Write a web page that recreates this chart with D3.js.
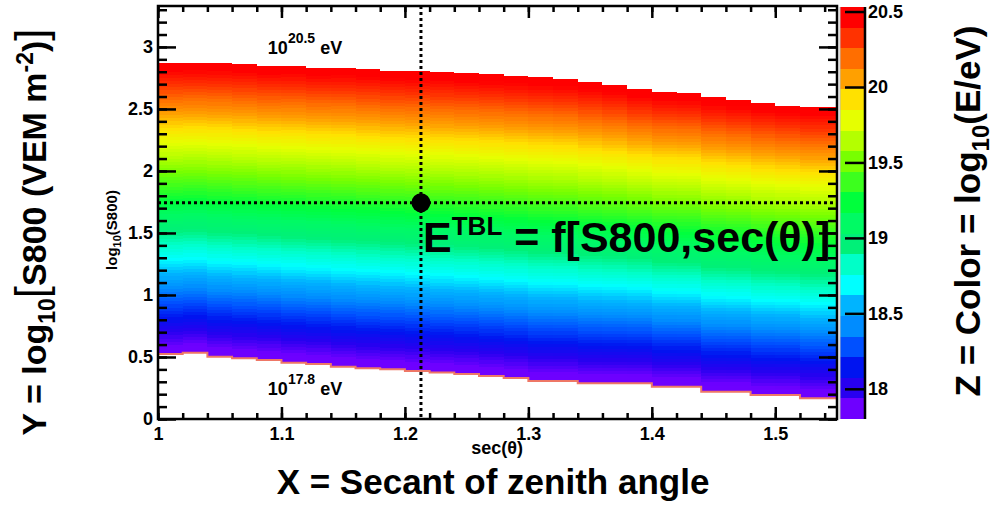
<!DOCTYPE html>
<html>
<head>
<meta charset="utf-8">
<script src="https://cdn.jsdelivr.net/npm/d3@7"></script>
<style>
 body { margin: 0; background: #fff; }
 text { font-family: "Liberation Sans", Arial, Helvetica, sans-serif; font-weight: bold; fill: #000; }
</style>
</head>
<body>
<div id="chart"></div>
<script>
// sec(theta) bin starts (bin width 0.02)
var secBins = [1.00, 1.02, 1.04, 1.06, 1.08, 1.10, 1.12, 1.14, 1.16, 1.18,
               1.20, 1.22, 1.24, 1.26, 1.28, 1.30, 1.32, 1.34, 1.36, 1.38,
               1.40, 1.42, 1.44, 1.46, 1.48, 1.50, 1.52, 1.54];
// log10(S800) where the table reaches 10^17.8 eV (lower edge)
var logS800Low = [0.524, 0.535, 0.502, 0.490, 0.476, 0.454, 0.444, 0.421, 0.409, 0.401,
                  0.387, 0.375, 0.363, 0.347, 0.331, 0.306, 0.306, 0.288, 0.288, 0.288,
                  0.260, 0.260, 0.220, 0.220, 0.194, 0.194, 0.167, 0.167];
// log10(S800) where the table reaches 10^20.5 eV (upper edge)
var logS800High = [2.869, 2.869, 2.869, 2.860, 2.847, 2.847, 2.833, 2.833, 2.820, 2.806,
                   2.802, 2.794, 2.786, 2.778, 2.766, 2.754, 2.742, 2.718, 2.694, 2.659,
                   2.635, 2.627, 2.594, 2.573, 2.546, 2.527, 2.514, 2.514];
var secBinWidth = 0.02;
var logSBinHeight = 0.025;
var energyRange = [17.8, 20.53];
var colorTicks = [18, 18.5, 19, 19.5, 20, 20.5];
var xMajorTicks = [1, 1.1, 1.2, 1.3, 1.4, 1.5];
var yMajorTicks = [0, 0.5, 1, 1.5, 2, 2.5, 3];
var refPoint = { sec: 1.213, logS: 1.744 };

// ROOT-like rainbow palette, bottom to top (20 contour levels)
var palette = ["#6e00ff", "#2800f0", "#0014f0", "#0050ff", "#008cff", "#00b4ff", "#00ffff",
               "#00ffc8", "#00f078", "#00fa64", "#00ff3c", "#3cff1e", "#78ff00", "#b4ff00",
               "#e6ff00", "#ffe100", "#ffa000", "#ff6e00", "#ff3200", "#ff0000"];

var props = { width: 1003, height: 508, left: 158, right: 837, top: 6, bottom: 419,
              barLeft: 840, barRight: 864, barTop: 7 };

var svg = d3.select("#chart").append("svg")
  .attr("width", props.width).attr("height", props.height);

var x = d3.scaleLinear().domain([1, 1.55]).range([props.left, props.right]);
var y = d3.scaleLinear().domain([0, 3.33]).range([props.bottom, props.top]);
var z = d3.scaleLinear().domain(energyRange).range([props.bottom, props.barTop]);

var nLevels = palette.length;
var step = (energyRange[1] - energyRange[0]) / nLevels;
var levelCenters = d3.range(nLevels).map(function(k){ return energyRange[0] + (k + 0.5) * step; });
var cellColor = d3.scaleLinear().domain(levelCenters).range(palette).clamp(true);

svg.append("clipPath").attr("id", "frameClip").append("rect")
  .attr("x", props.left).attr("y", props.top)
  .attr("width", props.right - props.left).attr("height", props.bottom - props.top);

// build cells: log10(E) rises linearly from the lower to the upper edge of each column
var cells = [];
secBins.forEach(function(s, i){
  var lo = logS800Low[i], hi = logS800High[i];
  for (var v = lo; v < hi - 1e-9; v += logSBinHeight) {
    var top = Math.min(v + logSBinHeight, hi);
    var mid = (v + top) / 2;
    var e = energyRange[0] + (mid - lo) / (hi - lo) * (energyRange[1] - energyRange[0]);
    cells.push({ sec: s, y0: v, y1: top, e: e });
  }
});

var heat = svg.append("g").attr("clip-path", "url(#frameClip)");
heat.selectAll("rect").data(cells).enter().append("rect")
  .attr("x", function(d){ return x(d.sec); })
  .attr("width", function(d){ return x(d.sec + secBinWidth) - x(d.sec); })
  .attr("y", function(d){ return y(d.y1); })
  .attr("height", function(d){ return y(d.y0) - y(d.y1); })
  .attr("fill", function(d){ return cellColor(d.e); })
  .attr("shape-rendering", "crispEdges");

// lower boundary line
var edge = secBins.map(function(s, i){ return [s, logS800Low[i]]; });
edge.push([secBins[secBins.length - 1] + secBinWidth, logS800Low[logS800Low.length - 1]]);
heat.append("path")
  .attr("d", d3.line().x(function(d){ return x(d[0]); }).y(function(d){ return y(d[1]); })
    .curve(d3.curveStepAfter)(edge))
  .attr("fill", "none").attr("stroke", "#ee7766").attr("stroke-width", 2);

// axes (ROOT style, ticks inside frame)
function styleAxis(g){
  g.select(".domain").remove();
  g.selectAll("line").attr("stroke", "#000").attr("stroke-width", 2.5);
  g.selectAll("text").attr("font-size", 18).attr("font-family", null).attr("fill", "#000");
}
var fmt = d3.format("~g");
var xMinor = d3.range(1, 1.5501, 0.02);
var yMinor = d3.range(0, 3.3301, 0.1);

svg.append("g").attr("transform", "translate(0," + props.bottom + ")")
  .call(d3.axisBottom(x).tickValues(xMinor).tickSize(-6).tickFormat("")).call(styleAxis);
svg.append("g").attr("transform", "translate(0," + props.bottom + ")")
  .call(d3.axisBottom(x).tickValues(xMajorTicks).tickSize(-12).tickPadding(8).tickFormat(fmt)).call(styleAxis);
svg.append("g").attr("transform", "translate(0," + props.top + ")")
  .call(d3.axisTop(x).tickValues(xMinor).tickSize(-6).tickFormat("")).call(styleAxis);
svg.append("g").attr("transform", "translate(0," + props.top + ")")
  .call(d3.axisTop(x).tickValues(xMajorTicks).tickSize(-12).tickFormat("")).call(styleAxis);

svg.append("g").attr("transform", "translate(" + props.left + ",0)")
  .call(d3.axisLeft(y).tickValues(yMinor).tickSize(-9).tickFormat("")).call(styleAxis);
svg.append("g").attr("transform", "translate(" + props.left + ",0)")
  .call(d3.axisLeft(y).tickValues(yMajorTicks).tickSize(-18).tickPadding(5).tickFormat(fmt)).call(styleAxis);
svg.append("g").attr("transform", "translate(" + props.right + ",0)")
  .call(d3.axisRight(y).tickValues(yMinor).tickSize(-9).tickFormat("")).call(styleAxis);
svg.append("g").attr("transform", "translate(" + props.right + ",0)")
  .call(d3.axisRight(y).tickValues(yMajorTicks).tickSize(-18).tickFormat("")).call(styleAxis);

svg.append("rect")
  .attr("x", props.left).attr("y", props.top)
  .attr("width", props.right - props.left).attr("height", props.bottom - props.top)
  .attr("fill", "none").attr("stroke", "#000").attr("stroke-width", 2.5);

// dotted guide lines and the reference point
svg.append("line")
  .attr("x1", x(refPoint.sec)).attr("x2", x(refPoint.sec))
  .attr("y1", props.top).attr("y2", props.bottom)
  .attr("stroke", "#000").attr("stroke-width", 3).attr("stroke-dasharray", "3,3");
svg.append("line")
  .attr("x1", props.left).attr("x2", props.right)
  .attr("y1", y(refPoint.logS)).attr("y2", y(refPoint.logS))
  .attr("stroke", "#000").attr("stroke-width", 3).attr("stroke-dasharray", "3,3");
svg.append("circle")
  .attr("cx", x(refPoint.sec)).attr("cy", y(refPoint.logS)).attr("r", 9.5).attr("fill", "#000");

// colour bar
var levels = d3.range(nLevels).map(function(k){ return energyRange[0] + k * step; });
svg.append("g").selectAll("rect").data(levels).enter().append("rect")
  .attr("x", props.barLeft).attr("width", props.barRight - props.barLeft)
  .attr("y", function(d){ return z(d + step); })
  .attr("height", function(d){ return z(d) - z(d + step); })
  .attr("fill", function(d, k){ return palette[k]; })
  .attr("shape-rendering", "crispEdges");
svg.append("line")
  .attr("x1", props.barLeft).attr("x2", props.barLeft)
  .attr("y1", props.barTop).attr("y2", props.bottom)
  .attr("stroke", "#bbb").attr("stroke-width", 1);
svg.append("g").attr("transform", "translate(" + (props.barRight + 1) + ",0)")
  .call(d3.axisRight(z).tickValues(colorTicks).tickSize(-20).tickPadding(3).tickFormat(fmt))
  .call(styleAxis);
svg.append("line")
  .attr("x1", props.barRight + 1).attr("x2", props.barRight + 1)
  .attr("y1", props.barTop).attr("y2", props.bottom)
  .attr("stroke", "#000").attr("stroke-width", 2.5);

// energy labels inside the plot
function energyLabel(sec, logS, exp){
  var t = svg.append("text").attr("x", x(sec)).attr("y", y(logS)).attr("font-size", 18);
  t.append("tspan").text("10");
  t.append("tspan").attr("dy", -11).attr("font-size", 14).text(exp);
  t.append("tspan").attr("dy", 11).text(" eV");
}
energyLabel(1.089, 2.94, "20.5");
energyLabel(1.089, 0.19, "17.8");

var eq = svg.append("text").attr("x", x(1.2147)).attr("y", y(1.347)).attr("font-size", 43);
eq.append("tspan").text("E");
eq.append("tspan").attr("dy", -17).attr("font-size", 26).text("TBL");
eq.append("tspan").attr("dy", 17).text(" = f[S800,sec(\u03b8)]");

// small axis titles
svg.append("text").attr("x", 497).attr("y", 454).attr("text-anchor", "middle")
  .attr("font-size", 18).text("sec(\u03b8)");
var ys = svg.append("text").attr("transform", "translate(117,230) rotate(-90)")
  .attr("text-anchor", "middle").attr("font-size", 15);
ys.append("tspan").text("log");
ys.append("tspan").attr("dy", 4).attr("font-size", 11).text("10");
ys.append("tspan").attr("dy", -4).text("(S800)");

// big annotation titles
svg.append("text").attr("x", 493).attr("y", 494).attr("text-anchor", "middle")
  .attr("font-size", 35).text("X = Secant of zenith angle");

var yt = svg.append("text").attr("transform", "translate(46,232) rotate(-90)")
  .attr("text-anchor", "middle").attr("font-size", 34);
yt.append("tspan").text("Y = log");
yt.append("tspan").attr("dy", 9).attr("font-size", 23).text("10");
yt.append("tspan").attr("dy", -9).attr("font-size", 44).attr("font-weight", "normal").text("[");
yt.append("tspan").text("S800 (VEM m");
yt.append("tspan").attr("dy", -13).attr("font-size", 23).text("-2");
yt.append("tspan").attr("dy", 13).text(")");
yt.append("tspan").attr("font-size", 44).attr("font-weight", "normal").text("]");

var zt = svg.append("text").attr("transform", "translate(980,211) rotate(-90)")
  .attr("text-anchor", "middle").attr("font-size", 35);
zt.append("tspan").text("Z = Color = log");
zt.append("tspan").attr("dy", 9).attr("font-size", 24).text("10");
zt.append("tspan").attr("dy", -9).text("(E/eV)");
</script>
</body>
</html>
